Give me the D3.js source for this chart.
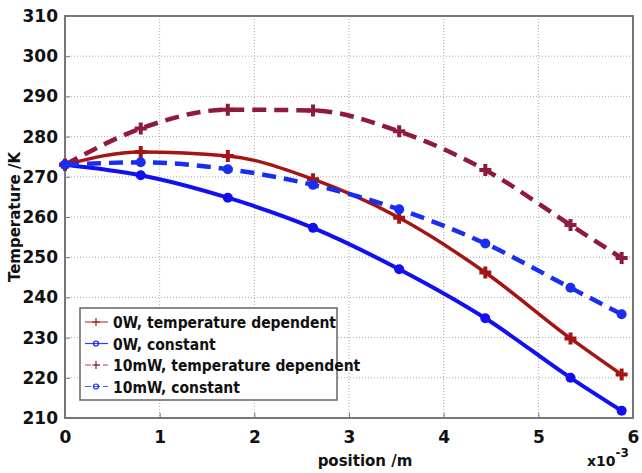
<!DOCTYPE html>
<html>
<head>
<meta charset="utf-8">
<script src="https://cdn.jsdelivr.net/npm/d3@7"></script>
<style>
  body { margin: 0; background: #fff; }
  text { font-family: "DejaVu Sans", Verdana, sans-serif; font-weight: bold; }
</style>
</head>
<body>
<div id="chart"></div>
<script>
// positions in units of 1e-3 m
const positions = [0, 0.8, 1.72, 2.62, 3.53, 4.44, 5.34, 5.88];
const tempDep0W = [273, 276.2, 275.2, 269.4, 259.8, 246.2, 229.8, 220.8];
const const0W = [273, 270.4, 264.8, 257.3, 247.0, 234.8, 220.0, 211.8];
const tempDep10mW = [273, 282.0, 286.7, 286.5, 281.3, 271.7, 258.0, 249.8];
const const10mW = [273, 273.6, 271.9, 268.0, 261.9, 253.4, 242.4, 235.8];
const xTicks = [0, 1, 2, 3, 4, 5, 6];
const yTicks = [210, 220, 230, 240, 250, 260, 270, 280, 290, 300, 310];

const series = [
  { name: "0W, temperature dependent", values: tempDep0W, color: "#a31515", dash: null, marker: "plus", w: 3.5 },
  { name: "0W, constant", values: const0W, color: "#1010f0", dash: null, marker: "circle", w: 4 },
  { name: "10mW, temperature dependent", values: tempDep10mW, color: "#8e1a3c", dash: "14,8", marker: "plus", w: 4.5 },
  { name: "10mW, constant", values: const10mW, color: "#1a2ef0", dash: "14,8", marker: "circle", w: 4.5 }
];

const W = 642, H = 473;
const margin = { top: 16, right: 9, bottom: 55, left: 65 };
const width = W - margin.left - margin.right;
const height = H - margin.top - margin.bottom;

const svg = d3.select("#chart").append("svg")
  .attr("width", W).attr("height", H);
const g = svg.append("g").attr("transform", `translate(${margin.left},${margin.top})`);

const x = d3.scaleLinear().domain([0, 6]).range([0, width]);
const y = d3.scaleLinear().domain([210, 310]).range([height, 0]);

// grid
g.append("g").selectAll("line").data(xTicks.slice(1, -1)).join("line")
  .attr("x1", d => x(d)).attr("x2", d => x(d)).attr("y1", 0).attr("y2", height)
  .attr("stroke", "#aaa").attr("stroke-width", 1).attr("stroke-dasharray", "1,2");
g.append("g").selectAll("line").data(yTicks.slice(1, -1)).join("line")
  .attr("x1", 0).attr("x2", width).attr("y1", d => y(d)).attr("y2", d => y(d))
  .attr("stroke", "#aaa").attr("stroke-width", 1).attr("stroke-dasharray", "1,2");

// axes
const xAxis = g.append("g").attr("transform", `translate(0,${height})`)
  .call(d3.axisBottom(x).tickValues(xTicks).tickSize(-5).tickPadding(13).tickFormat(d3.format("d")));
const yAxis = g.append("g")
  .call(d3.axisLeft(y).tickValues(yTicks).tickSize(-5).tickPadding(7));
[xAxis, yAxis].forEach(a => {
  a.attr("font-size", null).attr("font-family", null);
  a.select(".domain").remove();
  a.selectAll(".tick line").attr("stroke", "#777");
  a.selectAll(".tick text").attr("fill", "#111")
    .style("font-size", "17px").style("font-family", "DejaVu Sans").style("font-weight", "bold");
});

// frame
g.append("rect").attr("width", width).attr("height", height)
  .attr("fill", "none").attr("stroke", "#777").attr("stroke-width", 2);

// lines
const line = d3.line().x((d, i) => x(positions[i])).y(d => y(d)).curve(d3.curveMonotoneX);
series.forEach(s => {
  g.append("path").datum(s.values)
    .attr("d", line)
    .attr("fill", "none")
    .attr("stroke", s.color)
    .attr("stroke-width", s.w)
    .attr("stroke-dasharray", s.dash);
  const m = g.append("g").selectAll("g").data(s.values).join("g")
    .attr("transform", (d, i) => `translate(${x(positions[i])},${y(d)})`);
  if (s.marker === "circle") {
    m.append("circle").attr("r", 5).attr("fill", s.color);
  } else {
    m.append("path").attr("d", "M-6,0H6M0,-6V6").attr("stroke", s.color).attr("stroke-width", 4);
  }
});

// legend
const lg = g.append("g").attr("transform", `translate(${80 - margin.left},${308 - margin.top})`);
lg.append("rect").attr("width", 257).attr("height", 92)
  .attr("fill", "#fff").attr("stroke", "#666").attr("stroke-width", 1.5);
series.forEach((s, i) => {
  const row = lg.append("g").attr("transform", `translate(0,${14 + i * 21.5})`);
  row.append("line").attr("x1", 5).attr("x2", 28).attr("y1", 0).attr("y2", 0)
    .attr("stroke", s.color).attr("stroke-width", 1.2).attr("stroke-dasharray", s.dash ? "6,3" : null)
    .attr("opacity", 0.8);
  if (s.marker === "circle") {
    row.append("circle").attr("cx", 16).attr("r", 2.5).attr("fill", "none").attr("stroke", s.color).attr("stroke-width", 1.2);
  } else {
    row.append("path").attr("d", "M12,0H20M16,-4V4").attr("stroke", s.color).attr("stroke-width", 1.2);
  }
  row.append("text").attr("x", 33).attr("y", 6).attr("fill", "#111")
    .style("font-family", "'DejaVu Sans Condensed', 'DejaVu Sans'").style("font-size", "15.5px")
    .text(s.name);
});

// axis titles
svg.append("text").attr("transform", `translate(${margin.left + width / 2 + 16},${H - 7})`)
  .attr("text-anchor", "middle").attr("font-size", 15).attr("fill", "#111").text("position /m");
svg.append("text").attr("transform", `translate(20,${margin.top + height / 2}) rotate(-90)`)
  .attr("text-anchor", "middle").attr("font-size", 15).attr("fill", "#111").text("Temperature /K");
const exp = svg.append("text").attr("x", 587).attr("y", H - 7).attr("font-size", 14).attr("fill", "#111");
exp.append("tspan").text("x10");
exp.append("tspan").attr("dy", -9).attr("font-size", 12).text("-3");
</script>
</body>
</html>
